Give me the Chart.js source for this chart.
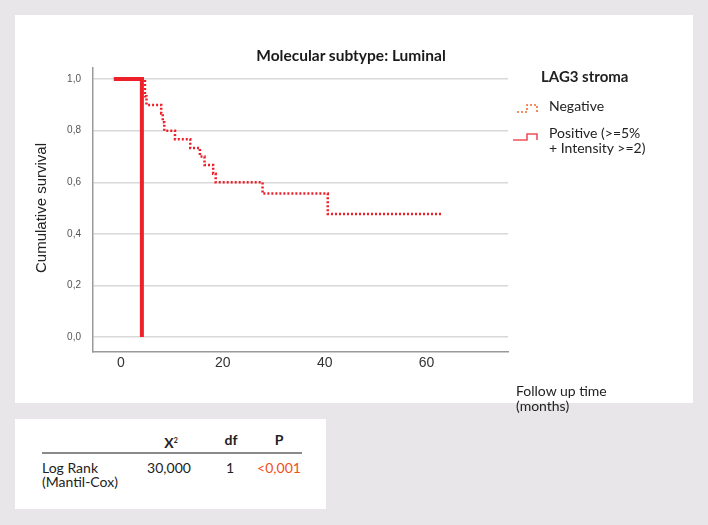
<!DOCTYPE html>
<html>
<head>
<meta charset="utf-8">
<script src="https://cdn.jsdelivr.net/npm/chart.js@4/dist/chart.umd.min.js"></script>
<style>
  html, body { margin: 0; padding: 0; }
  body { width: 708px; height: 525px; background: #e8e6e8; position: relative; overflow: hidden; font-family: Lato, "Liberation Sans", sans-serif; color: #222; }
  .panel { position: absolute; background: #ffffff; }
  #chartPanel { left: 15px; top: 15px; width: 678px; height: 388px; }
  #chartPanel canvas { position: absolute; left: 0; top: 0; }
  .t { position: absolute; white-space: nowrap; line-height: 16px; font-size: 14px; }
  #ytitle { position: absolute; left: -85px; top: 199px; width: 252px; height: 18px; line-height: 18px; text-align: center; transform: rotate(-90deg); font-family: "Liberation Sans", Arial, sans-serif; font-size: 15px; color: #222; white-space: nowrap; }
  #ctitle { position: absolute; left: 201px; top: 46px; width: 300px; height: 18px; line-height: 18px; text-align: center; font-weight: bold; font-size: 15.5px; color: #1a1a1a; white-space: nowrap; }
  #tablePanel { left: 15px; top: 419px; width: 311px; height: 90px; }
  .b { font-weight: bold; }
  .c { text-align: center; transform: translateX(-50%); }
</style>
</head>
<body>
<div id="chartPanel" class="panel"><canvas id="km" width="678" height="388"></canvas></div>

<div id="ctitle"></div>
<div id="ytitle">Cumulative survival</div>
<div class="t" style="left:516px; top:383px;">Follow up time</div>
<div class="t" style="left:516px; top:398px;">(months)</div>

<div class="t b" style="left:541px; top:68px; font-size:15px;">LAG3 stroma</div>
<svg style="position:absolute; left:514px; top:101px;" width="28" height="16">
  <polyline points="3,11 13,11 13,4 23,4 23,11" fill="none" stroke="#f26a2e" stroke-width="1.6" stroke-dasharray="2,2"/>
</svg>
<div class="t" style="left:549px; top:98px;">Negative</div>
<svg style="position:absolute; left:510px; top:128px;" width="32" height="16">
  <polyline points="3,12 17,12 17,6 27,6 27,12" fill="none" stroke="#f0505a" stroke-width="1.6"/>
</svg>
<div class="t" style="left:549px; top:125px;">Positive (&gt;=5%</div>
<div class="t" style="left:549px; top:140px;">+ Intensity &gt;=2)</div>

<div id="tablePanel" class="panel"></div>
<div class="t b c" style="left:171px; top:432px;">X<sup style="font-size:7px; vertical-align:5px;">2</sup></div>
<div class="t b c" style="left:231px; top:432px;">df</div>
<div class="t b c" style="left:279px; top:432px;">P</div>
<div style="position:absolute; left:42px; top:452px; width:260px; height:1.5px; background:#8a8a8a;"></div>
<div class="t" style="left:42px; top:460px;">Log Rank</div>
<div class="t" style="left:42px; top:474px;">(Mantil-Cox)</div>
<div class="t c" style="left:169px; top:460px;">30,000</div>
<div class="t c" style="left:230px; top:460px;">1</div>
<div class="t c" style="left:279px; top:460px; color:#f04e23;">&lt;0,001</div>

<script>
// ---- data ----
const negTimes    = [-1.4, 4.7, 5.0, 7.9, 8.2, 8.5, 10.6, 13.6, 15.5, 16.4, 18.1, 18.6, 27.8, 40.6, 62.9];
const negSurvival = [1.0, 0.933, 0.9, 0.867, 0.833, 0.8, 0.767, 0.733, 0.7, 0.667, 0.633, 0.6, 0.556, 0.477, 0.477];
const posTimes    = [-1.4, 4.1];
const posSurvival = [1.0, 0.0];
const yTickValues = [0, 0.2, 0.4, 0.6, 0.8, 1.0];
const yTickLabels = ['0,0', '0,2', '0,4', '0,6', '0,8', '1,0'];
const xTickValues = [0, 20, 40, 60];
const xTickLabels = ['0', '20', '40', '60'];
const chartTitle = 'Molecular subtype: Luminal';

document.getElementById('ctitle').textContent = chartTitle;

const toPts = (xs, ys) => xs.map((x, i) => ({ x: x, y: ys[i] }));

new Chart(document.getElementById('km'), {
  type: 'line',
  data: {
    datasets: [
      {
        label: 'Negative',
        data: toPts(negTimes, negSurvival),
        stepped: 'before',
        borderColor: '#f01e28',
        borderWidth: 2.5,
        borderDash: [2, 2],
        pointRadius: 0,
        fill: false
      },
      {
        label: 'Positive (>=5% + Intensity >=2)',
        data: toPts(posTimes, posSurvival),
        stepped: 'before',
        borderColor: '#ee2028',
        borderWidth: 4,
        pointRadius: 0,
        fill: false
      }
    ]
  },
  options: {
    responsive: false,
    animation: false,
    devicePixelRatio: 1,
    layout: { padding: { left: 0, right: 185, top: 53, bottom: 11 } },
    plugins: {
      legend: { display: false },
      tooltip: { enabled: false },
      title: { display: false }
    },
    scales: {
      x: {
        type: 'linear',
        min: -5.5,
        max: 76,
        afterFit: s => { s.height = 40; },
        afterBuildTicks: s => { s.ticks = xTickValues.map(v => ({ value: v })); },
        ticks: {
          autoSkip: false,
          maxRotation: 0,
          padding: 3,
          color: '#333',
          font: { family: 'Liberation Sans', size: 14 },
          callback: (v) => xTickLabels[xTickValues.indexOf(v)]
        },
        grid: { display: false, drawTicks: false },
        border: { display: true, color: '#9a9a9a', width: 1.5 }
      },
      y: {
        type: 'linear',
        min: -0.058,
        max: 1.043,
        afterFit: s => { s.width = 78; },
        afterBuildTicks: s => { s.ticks = yTickValues.map(v => ({ value: v })); },
        ticks: {
          autoSkip: false,
          padding: 12,
          color: '#555',
          font: { family: 'Liberation Sans', size: 10 },
          callback: (v) => yTickLabels[yTickValues.findIndex(t => Math.abs(t - v) < 1e-9)]
        },
        grid: { color: '#d8d8d8', lineWidth: 1.5, drawTicks: false },
        border: { display: true, color: '#9a9a9a', width: 1.5 }
      }
    }
  }
});
</script>
</body>
</html>
